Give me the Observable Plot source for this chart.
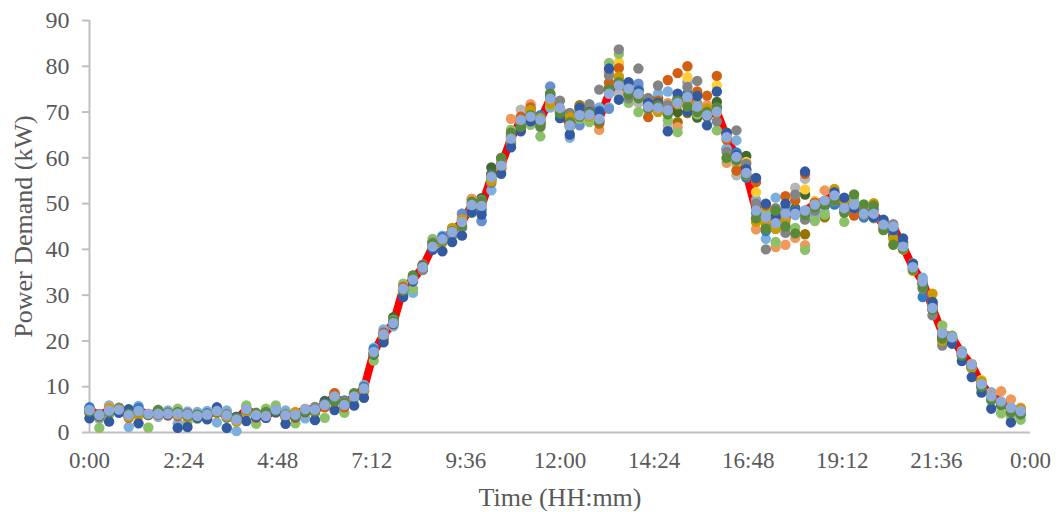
<!DOCTYPE html>
<html><head><meta charset="utf-8">
<script src="https://cdn.jsdelivr.net/npm/d3@7"></script>
<script src="https://cdn.jsdelivr.net/npm/@observablehq/plot@0.6"></script>
<style>html,body{margin:0;padding:0;background:#fff}svg{display:block}</style>
</head><body><div id="chart"></div>
<script>
const slotMinutes = 15;
const xTickValues = [0,144,288,432,576,720,864,1008,1152,1296,1440];
const xTickLabels = ["0:00","2:24","4:48","7:12","9:36","12:00","14:24","16:48","19:12","21:36","0:00"];
const yTickValues = [0,10,20,30,40,50,60,70,80,90];

const average = [4.9,3.8,4.8,5.0,3.8,4.7,4.1,4.1,4.1,4.1,
3.9,3.6,3.9,4.7,3.8,2.8,5.1,3.8,3.6,5.0,
3.8,3.9,5.1,5.0,6.0,7.9,6.0,7.9,9.6,17.6,
21.4,23.9,31.4,33.4,36.1,40.6,42.2,43.8,46.0,49.7,
49.5,55.8,58.3,64.2,68.3,69,68.3,72.9,70.9,67.1,
69.3,69.4,68.5,74,75.8,75.1,74,71.2,70.9,70.4,
72,73.3,71.2,69.3,70.1,64.5,60.2,56.7,48.5,47,
45.7,47.8,47.8,48.5,49.8,50.7,51.8,49,49.8,47.8,
47.8,45.4,45,40.6,36.1,33,27.2,21.7,20.8,17.3,
14.8,10.6,7.9,6.8,5.4,4.7];
const navy = [3.1,3.6,2.4,4.3,5.1,2.0,3.9,4.8,3.9,1.0,
1.2,3.2,2.9,5.5,1.0,3.4,2.5,3.4,3.2,4.4,
1.9,3.5,4.5,2.7,6.7,4.9,6.4,5.9,7.6,17.0,
19.7,23.7,29.6,33.0,36.5,39.9,39.6,41.6,43.0,48.1,
47.6,56.5,56.5,62.3,65.8,68.0,67.5,73.5,68.7,65.1,
71.0,70.0,70.0,79.5,72.7,76.5,74.5,72.0,72.0,65.8,
74.0,70.1,73.5,67.1,74.5,65.5,60.6,57.5,55.6,50,
47.2,50,48.2,57,49.5,50.5,52.5,51.3,49,48,
47,46.5,44.2,42.4,36.8,32.5,28.5,21.2,19.4,15.6,
12.1,8.7,5.2,6.2,2.2,4.0];
const ltGreen = [4.2,1.0,3.9,4.9,3.6,3.7,1.1,5.0,4.4,5.2,
2.4,3.0,4.2,4.5,3.2,2.4,5.9,1.9,5.2,5.9,
3.2,2.0,4.3,4.6,3.2,6.5,4.3,7.4,9.0,15.7,
21.1,24.6,32.5,31.4,36,42.3,41.5,43,45.4,48,
48.3,55.5,57.5,66.1,66.5,67.2,64.7,71.5,69.5,66.8,
68.5,67.8,67.5,80.7,82.7,72,70,70.5,72,68.2,
65.6,71.5,69.5,70.5,66,59.8,59.3,55.8,46.5,47.8,
41.6,44.5,44.7,39.9,46.2,47.6,50.5,46,51,49,
46.8,45,44.5,40,37,33,28.5,23.4,21.2,17.5,
14.2,9.5,7,4.2,3.5,2.8];
const ltBlue = [5.4,3.0,5.9,4.5,1.2,5.8,4.0,3.4,4.8,2.0,
4.6,4.5,4.7,2.2,4.8,0.3,4.2,3.5,3.9,4.6,
4.8,3.7,3.1,5.2,5.6,8.3,6.3,7.5,10.4,18.5,
22.5,23.2,30.5,30.5,35.5,41,43,44.6,47.8,48.8,
46.2,52.9,59,64.5,67.5,69.5,69,71,70.5,64.4,
70,68,71,71,80.6,76,75.5,70.5,74,74.5,
73,76.5,72,71,70.5,62,63.8,56,50.8,42.3,
51.3,46,47.5,48.5,47.4,48,50.5,48.5,50.5,47,
47.5,45,44.5,41.5,36.5,33.8,27.5,22,20.5,17.8,
15,10.5,8.8,6.5,5.5,5];
const gray = [4.8,4.0,4.5,5.3,3.9,4.4,3.9,4.4,4.4,4.0,
4.2,3.8,4,4.9,3.5,3.2,4.9,3.6,4.2,4.7,
4.0,4.2,4.8,5.6,6.4,7.5,6.2,8.5,9.2,17.2,
21,24.3,31,34,35.6,41.5,42,43,44.8,49,
50.8,54.5,60,63,66.3,70.5,66.7,73.5,72.5,69.8,
70,71.7,74.9,78,83.7,73,79.5,73,75.8,71.5,
73,75.5,76.8,70,68,61.3,66,58.7,50,40,
49,43.6,52,46.5,48.5,50,50.5,49,49,47.5,
47,45.2,45.5,40.8,36.4,31.4,25.6,19,20.5,17,
14.5,10.2,7.5,6.5,5,4.8];
const dkOrange = [4.5,3.4,4.6,5.2,3.2,4.2,3.8,3.9,3.7,3.6,
3.5,3.2,3.4,4.3,3.5,2.6,4.7,3.2,3.2,4.4,
3.5,3.2,4.4,4.3,5.5,8.6,5.5,8.3,9,17.4,
21.7,24.2,31.8,33.7,35.6,40.8,41.9,43.2,45.8,50,
50,56.3,58.5,64.6,69,71,68,72,70.3,67.5,
69,70.2,67.5,76.4,79.6,74.5,73.5,68.9,72.5,77,
78.5,80,74.5,73.6,77.9,64,57.2,57.2,54.7,49.6,
46.3,51.6,50.7,56.5,50.2,50,50.7,50.5,47.4,48,
47.5,45,44.5,40.8,36,32.5,28,20.8,20.2,16.8,
14.3,10.2,7.5,6.3,5.2,4.5];
const ltOrange = [4.5,3.5,5.5,5.4,3.4,4.9,4,4.3,4.2,4.4,
3.7,3.5,4,5,3.9,3,5.4,3.6,3.9,5.2,
4,4.5,5.2,5.3,6.3,8.6,6.4,8.3,9.4,18,
21.8,24,31.6,33.9,36.5,41,41.8,44.1,46.5,51,
50.2,56.5,59.5,68.5,67.8,71.7,68.5,72.5,69.8,68.8,
69.5,70,66.1,78.7,77,74.5,73,71.5,71.5,72,
66.7,73,71,71.5,70,58.9,58.7,56.2,44.4,49,
40.5,41,42.5,40.9,50.5,52.9,51,49,49,47.5,
48,46,44.8,41,36.5,32.8,28,21.8,21,17.5,
15,10.8,8.2,9,7.2,5.4];
const gold = [4.3,3.5,5.3,5.2,3.5,3.7,3.8,4.6,4,3.9,
3.6,3.4,3.3,4.4,3.6,2.4,4.6,3.6,3.3,4.6,
3.6,4.4,5,4.4,6.2,7.7,6.6,7.7,9.2,17.2,
20.8,23.6,31.1,33.2,36.7,40.4,41.5,44.7,46.6,49.5,
49.8,55,57.5,64,68,70.4,68.7,71.8,70.3,68.9,
71,69,68.4,74.8,77.8,75,73.5,71,70,69.8,
71.7,71.8,71.5,70.8,70,65.5,60,56.3,46,46,
44.5,46.5,48,48.2,49.5,50.5,53.2,50.7,49,48.8,
50.1,44.6,42.3,40,35.3,32.5,30.3,20,20,17,
14.2,11.2,7.2,6.4,4.5,5.2];
const midGreen = [4.6,3.7,4.4,5.2,4.1,4.6,3.9,4.8,4.3,4.5,
3.7,3.9,3.8,4.5,4,3.2,5,4.3,4.5,4.8,
3.9,3.6,4.6,4.6,6.3,6.8,6.4,8.6,9.8,17.1,
21.3,24.4,31,34.2,36.3,41.3,41.9,44,45.2,50.4,
50.5,56.2,60,65.5,66.8,69.3,67,74,69.7,67.8,
69,69.8,68,75,76.5,73.8,73,70.8,71.5,69.5,
72.5,71.2,70,70,71,60,59.5,56.4,46.8,44.5,
48.5,45,43.5,47.5,49.2,49.8,50.8,48,52,49.8,
49.6,44.2,41,40.2,35.6,31.7,26.8,20.5,20.9,16.8,
14.7,10,7.2,6,4.4,4];
const blue3 = [5.5,3.9,4.7,4.6,4.7,5.4,3.9,4.5,4.3,4.4,
4.1,3.9,4.2,4.4,3.3,3.4,4.6,3.8,3.8,4.9,
3.6,3.8,4.5,4.9,6.4,8.2,7,8,10,18.2,
21.8,23.8,31,33.7,36.6,40.2,42.7,44.5,46.3,49,
48.8,55.2,57.8,63.5,67.3,69.7,69.3,73,70,67.3,
69.8,71,70.3,74.5,76.5,73.7,74.8,71.6,71.7,71,
72.8,73.8,71.5,70,71,65,61.2,55.7,48,44,
45.8,46.7,48.5,48,50,50.3,49.8,49.5,49.5,47,
48.8,46.3,43.8,41.5,36.8,29.6,27.8,21.3,20.1,17.4,
14,10.4,7.8,6.6,5,5];
const darkGreen = [4.7,3.5,4.9,5.4,4.4,5,4,4.7,4.2,4.3,
3.8,3.8,3.7,4.8,4,3.4,4.7,4.1,4.4,4.9,
3.9,4,5,4.8,6.9,7.3,6.2,8.5,9.9,17.3,
20.5,25.2,30.5,34.3,35.8,41.6,41.8,43.5,44.8,51,
51.2,57.9,58.2,65,67,68.5,67.8,74,70,66.8,
70.8,71.2,68,75.2,75.5,76,75,73,73,70,
70,74,68.8,69,72.2,62,61,60.4,49,48.5,
45.5,48.8,49,52,48.5,49.5,50.3,49.5,48.5,48,
47.2,45.2,43,40,35.8,32.8,27,20.3,20.4,17.6,
14.4,10.1,7.4,6,5,4.3];
// Series that only show at a few slots; the rest is hidden behind the other dots.
const darkGoldSlots = [45,50,54,60,61,69,70,73,75,83];
const darkGoldValues = [70.3,71.5,77.6,67.8,69.8,45.5,44.5,43.3,47,40.1];
const ltGoldSlots = [50,54,61,64,67,68,73,74,91];
const ltGoldValues = [71,80.9,77.6,75.8,59.1,52.5,53.1,50.5,11.5];
const ltGraySlots = [38,44,45,54,56,59,66,72,73];
const ltGrayValues = [47,70.5,70.5,74,72,67,56.2,53.5,55.4];
const blue2Slots = [38,40,47,50,53,56,71];
const blue2Values = [47.8,46.2,75.6,67.1,70.7,76.2,48.5];

const full = v => v.map((y,i) => ({t:i*slotMinutes, y}));
const sparse = (s,v) => s.map((k,i) => ({t:k*slotMinutes, y:v[i]}));
const layers = [
  [sparse(darkGoldSlots,darkGoldValues),"#997300"],
  [full(darkGreen),"#43682b"],
  [full(ltBlue),"#7cafdd"],
  [full(ltOrange),"#f1975a"],
  [sparse(ltGraySlots,ltGrayValues),"#b7b7b7"],
  [sparse(ltGoldSlots,ltGoldValues),"#ffcd33"],
  [sparse(blue2Slots,blue2Values),"#698ed0"],
  [full(ltGreen),"#8cc168"],
  [full(blue3),"#327dc2"],
  [full(dkOrange),"#d26012"],
  [full(gray),"#848484"],
  [full(gold),"#cc9a00"],
  [full(navy),"#335aa1"],
  [full(midGreen),"#5a8a39"],
  [full(average),"#8fabdc"]
];
const axisGray = "#bfbfbf", textGray = "#595959";
const chart = Plot.plot({
  width:1061, height:512,
  marginLeft:89, marginRight:31, marginTop:20, marginBottom:80,
  style:{fontFamily:"'Liberation Serif'", fontSize:"23px", background:"#fff"},
  x:{domain:[0,1440], ticks:xTickValues},
  y:{domain:[0,90]},
  marks:[
    Plot.lineY(full(average),{x:"t",y:"y",stroke:"#ff0000",strokeWidth:8,curve:"linear"}),
    Plot.ruleX([0],{stroke:axisGray,strokeWidth:2}),
    Plot.ruleY([0],{stroke:axisGray,strokeWidth:2}),
    Plot.axisY({ticks:yTickValues,tickSize:7,tickPadding:13,stroke:axisGray,strokeWidth:2,fill:textGray,
      fontSize:24,label:null}),
    Plot.axisX({ticks:xTickValues,tickFormat:(d,i)=>xTickLabels[i],tickSize:0,tickPadding:19,fill:textGray,
      fontSize:23,label:null}),
    Plot.text(["Power Demand (kW)"],{frameAnchor:"left",textAnchor:"middle",dx:-66,rotate:-90,fill:textGray,fontSize:26}),
    Plot.text(["Time (HH:mm)"],{frameAnchor:"bottom",dy:73,fill:textGray,fontSize:26}),
    ...layers.map(([data,color]) => Plot.dot(data,{x:"t",y:"y",r:5.2,fill:color,stroke:null}))
  ]
});
document.getElementById("chart").append(chart);
</script></body></html>
